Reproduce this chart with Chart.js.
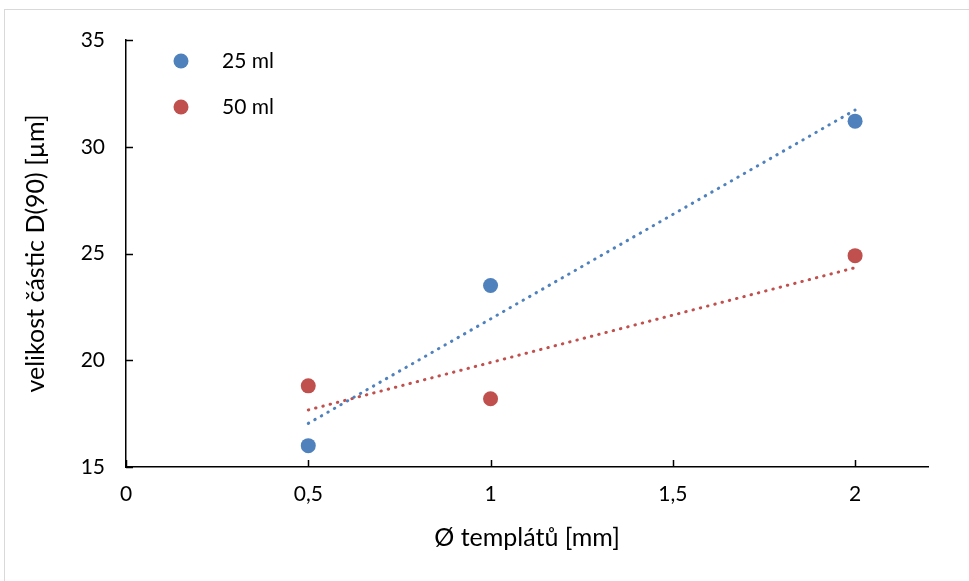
<!DOCTYPE html>
<html>
<head>
<meta charset="utf-8">
<script src="https://cdn.jsdelivr.net/npm/chart.js@4"></script>
<style>
  html, body { margin: 0; padding: 0; background: #fff; overflow: hidden; }
  #frame { position: absolute; left: 4px; top: 9px; width: 990px; height: 600px; border: 1px solid #d9d9d9; }
  #wrap { position: absolute; left: 0; top: 0; width: 969px; height: 581px; }
</style>
</head>
<body>
<div id="frame"></div>
<div id="wrap"><canvas id="c" width="969" height="581"></canvas></div>
<script>
// ---- data ----
const templateDiameters = [0.5, 1, 2];
const series25ml = [16.0, 23.5, 31.2];
const series50ml = [18.8, 18.2, 24.9];
const seriesNames = ['25 ml', '50 ml'];
const xTickValues = [0, 0.5, 1, 1.5, 2];
const yTickValues = [15, 20, 25, 30, 35];
const xTitle = 'Ø templátů [mm]';
const yTitle = 'velikost částic D(90) [µm]';

const BLUE = '#4f81bd';
const RED = '#c0504d';
const FONT = 'Lato, "Open Sans", sans-serif';

function toPoints(xs, ys) { return xs.map((x, i) => ({ x: x, y: ys[i] })); }
function linearTrend(xs, ys) {
  const n = xs.length;
  const mx = xs.reduce((a, b) => a + b, 0) / n;
  const my = ys.reduce((a, b) => a + b, 0) / n;
  let sxy = 0, sxx = 0;
  for (let i = 0; i < n; i++) { sxy += (xs[i] - mx) * (ys[i] - my); sxx += (xs[i] - mx) ** 2; }
  const k = sxy / sxx, q = my - k * mx;
  const x0 = Math.min(...xs), x1 = Math.max(...xs);
  return [{ x: x0, y: k * x0 + q }, { x: x1, y: k * x1 + q }];
}

const trendStyle = (c) => ({
  showLine: true, borderColor: c, borderWidth: 3, borderDash: [0.5, 7],
  borderCapStyle: 'round', pointRadius: 0, pointHoverRadius: 0, fill: false
});

const insideTicks = {
  id: 'insideTicks',
  afterDatasetsDraw(chart) {
    const { ctx, chartArea: a, scales: { x, y } } = chart;
    ctx.save();
    ctx.strokeStyle = '#000';
    ctx.lineWidth = 1.5;
    ctx.beginPath();
    xTickValues.forEach(v => { const px = Math.round(x.getPixelForValue(v)) + 0.5; ctx.moveTo(px, a.bottom); ctx.lineTo(px, a.bottom - 7); });
    yTickValues.forEach(v => { const py = Math.round(y.getPixelForValue(v)) + 0.5; ctx.moveTo(a.left, py); ctx.lineTo(a.left + 7, py); });
    ctx.stroke();
    ctx.restore();
  }
};

const innerLegend = {
  id: 'innerLegend',
  afterDraw(chart) {
    const { ctx } = chart;
    const items = [{ t: seriesNames[0], c: BLUE }, { t: seriesNames[1], c: RED }];
    ctx.save();
    ctx.font = '21px ' + FONT;
    ctx.textBaseline = 'middle';
    ctx.textAlign = 'left';
    items.forEach((it, i) => {
      const cy = 61 + i * 46;
      ctx.fillStyle = it.c;
      ctx.beginPath(); ctx.arc(181, cy, 7.5, 0, Math.PI * 2); ctx.fill();
      ctx.fillStyle = '#000';
      ctx.fillText(it.t, 222, cy);
    });
    ctx.restore();
  }
};

new Chart(document.getElementById('c'), {
  type: 'scatter',
  data: {
    datasets: [
      { label: seriesNames[0], data: toPoints(templateDiameters, series25ml), backgroundColor: BLUE, borderColor: BLUE, pointRadius: 7.5, pointBorderWidth: 0 },
      { label: seriesNames[1], data: toPoints(templateDiameters, series50ml), backgroundColor: RED, borderColor: RED, pointRadius: 7.5, pointBorderWidth: 0 },
      Object.assign({ label: 'trend 25', data: linearTrend(templateDiameters, series25ml) }, trendStyle(BLUE)),
      Object.assign({ label: 'trend 50', data: linearTrend(templateDiameters, series50ml) }, trendStyle(RED))
    ]
  },
  options: {
    responsive: false,
    animation: false,
    devicePixelRatio: 1,
    layout: { padding: { left: 0, top: 40, right: 41, bottom: 0 } },
    plugins: { legend: { display: false }, tooltip: { enabled: false } },
    scales: {
      x: {
        type: 'linear', min: 0, max: 2.2,
        afterFit(s) { s.height = 114; },
        afterBuildTicks(s) { s.ticks = xTickValues.map(v => ({ value: v })); },
        grid: { display: false, drawTicks: false },
        border: { display: true, color: '#000', width: 1.5 },
        ticks: { color: '#000', padding: 15, font: { family: FONT, size: 21 }, callback: v => String(v).replace('.', ','), maxRotation: 0, autoSkip: false },
        title: { display: true, text: xTitle, color: '#000', font: { family: FONT, size: 25 }, padding: { top: 0, bottom: 28 } }
      },
      y: {
        type: 'linear', min: 15, max: 35,
        afterFit(s) { s.width = 126; },
        afterBuildTicks(s) { s.ticks = yTickValues.map(v => ({ value: v })); },
        grid: { display: false, drawTicks: false },
        border: { display: true, color: '#000', width: 1.5 },
        ticks: { color: '#000', padding: 21, font: { family: FONT, size: 21 }, autoSkip: false },
        title: { display: true, text: yTitle, color: '#000', font: { family: FONT, size: 25 }, padding: { top: 21, bottom: 0 } }
      }
    }
  },
  plugins: [insideTicks, innerLegend]
});
</script>
</body>
</html>
